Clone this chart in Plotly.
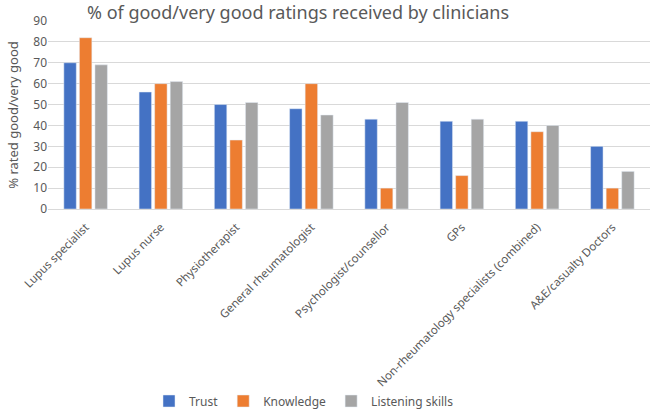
import plotly.graph_objects as go

categories = ["Lupus specialist", "Lupus nurse", "Physiotherapist", "General rheumatologist",
              "Psychologist/counsellor", "GPs", "Non-rheumatology specialists (combined)",
              "A&E/casualty Doctors"]
trust = [70, 56, 50, 48, 43, 42, 42, 30]
knowledge = [82, 60, 33, 60, 10, 16, 37, 10]
listening = [69, 61, 51, 45, 51, 43, 40, 18]
y_ticks = [0, 10, 20, 30, 40, 50, 60, 70, 80, 90]

FONT = "Noto Sans, sans-serif"
GRAY = "#595959"

fig = go.Figure()
fig.add_bar(name="Trust", x=categories, y=trust, marker_color="#4472C4")
fig.add_bar(name="Knowledge", x=categories, y=knowledge, marker_color="#ED7D31")
fig.add_bar(name="Listening skills", x=categories, y=listening, marker_color="#A5A5A5")

fig.update_layout(
    width=655, height=410,
    margin=dict(l=48, r=5, t=21, b=201, autoexpand=False),
    paper_bgcolor="white", plot_bgcolor="white",
    barmode="group", bargap=0.38, bargroupgap=0.2,
    font=dict(family=FONT, color=GRAY, size=12),
    title=dict(text="% of good/very good ratings received by clinicians",
               x=87/655, xanchor="left", xref="container",
               y=1-13/410, yanchor="middle", yref="container",
               font=dict(size=18, color=GRAY, family=FONT)),
    legend=dict(orientation="h", x=304/655, xanchor="center", xref="container",
                y=9/410, yanchor="middle", yref="container", bgcolor="rgba(0,0,0,0)",
                font=dict(size=12, color=GRAY), itemwidth=30,
                traceorder="normal"),
    showlegend=True,
)
fig.update_yaxes(range=[0, 90], tickvals=y_ticks, showgrid=True, gridcolor="#D9D9D9",
                 zeroline=False, showline=False, ticks="", automargin=False,
                 title=dict(text="% rated good/very good", font=dict(size=13, color=GRAY), standoff=11),
                 tickfont=dict(size=12, color=GRAY))
fig.update_xaxes(tickangle=-45, showline=True, linecolor="#D9D9D9", ticks="", automargin=False,
                 ticklabelstandoff=6, tickfont=dict(size=11.5, color=GRAY))

fig.write_html("out.html", config={"displayModeBar": False},
               post_script="document.body.style.margin='0';document.body.style.overflow='hidden';")
